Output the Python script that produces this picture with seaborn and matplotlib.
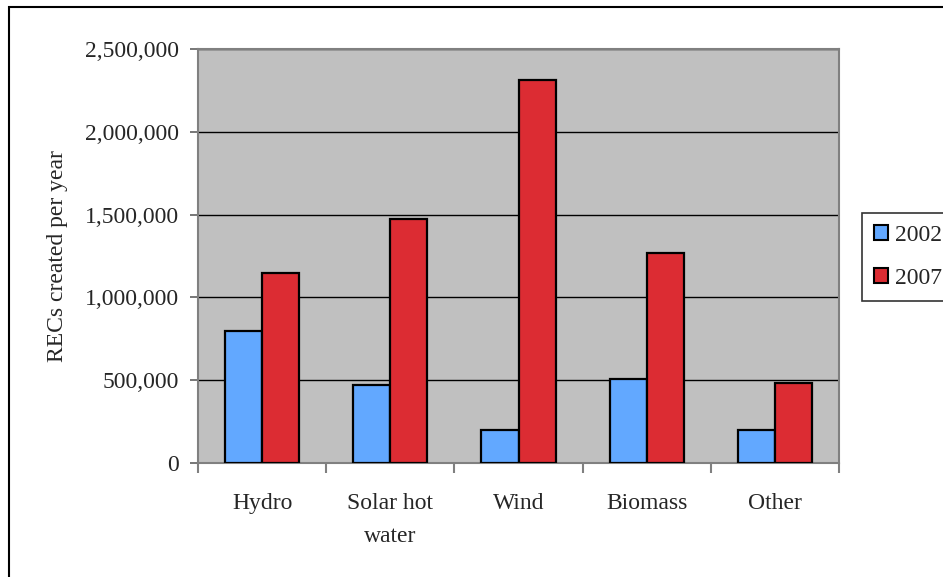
import matplotlib
matplotlib.use("Agg")
import matplotlib.pyplot as plt
from matplotlib.patches import Rectangle
from matplotlib.ticker import FuncFormatter, MultipleLocator
import seaborn as sns
import pandas as pd

categories = ["Hydro", "Solar hot\nwater", "Wind", "Biomass", "Other"]
years = ["2002", "2007"]
recs_2002 = [797000, 471000, 199000, 507000, 199000]
recs_2007 = [1147000, 1473000, 2313000, 1268000, 483000]
colors = ["#62A8FF", "#DC2C33"]

df = pd.DataFrame({
    "category": categories * 2,
    "year": [years[0]] * len(categories) + [years[1]] * len(categories),
    "recs": recs_2002 + recs_2007,
})

sns.set_style("white")
plt.rcParams["font.family"] = ["Liberation Serif", "DejaVu Serif"]

fig = plt.figure(figsize=(9.43, 5.77), dpi=100)
ax = fig.add_axes([198 / 943, 1 - 463 / 577, 641 / 943, 414 / 577])
ax.set_facecolor("#C0C0C0")

sns.barplot(data=df, x="category", y="recs", hue="year", palette=colors,
            order=categories, hue_order=years, width=0.58, gap=0,
            saturation=1, edgecolor="black", linewidth=1.6, errorbar=None,
            ax=ax, legend=False, zorder=3)

ax.set_ylim(0, 2500000)
ax.set_xlim(-0.5, len(categories) - 0.5)
ax.yaxis.set_major_locator(MultipleLocator(500000))
ax.yaxis.set_major_formatter(FuncFormatter(lambda v, p: f"{int(v):,}"))
ax.grid(axis="y", color="black", linewidth=1.0, zorder=1)
ax.set_axisbelow(True)

for s in ax.spines.values():
    s.set_color("#808080")
    s.set_linewidth(1.5)
    s.set_visible(True)

ax.tick_params(axis="y", which="major", left=True, length=6, width=1.2,
               color="#606060", labelsize=17, pad=8)
ax.set_xticks(range(len(categories)))
ax.set_xticklabels(categories, fontsize=17, linespacing=1.75)
ax.tick_params(axis="x", which="major", bottom=False, labelsize=17, pad=18)
ax.set_xticks([i - 0.5 for i in range(len(categories) + 1)], minor=True)
ax.tick_params(axis="x", which="minor", bottom=True, length=7, width=1.5,
               color="#808080")
for lbl in ax.get_xticklabels():
    lbl.set_verticalalignment("top")

ax.set_xlabel("")
ax.set_ylabel("RECs created per year", fontsize=17, labelpad=12)

handles = [Rectangle((0, 0), 1, 1, facecolor=c, edgecolor="black", linewidth=1.5)
           for c in colors]
leg = fig.legend(handles, years, loc="upper left",
                 bbox_to_anchor=(862 / 943, 1 - 213 / 577),
                 frameon=True, fancybox=False, fontsize=17,
                 handlelength=0.6, handleheight=0.6, handletextpad=0.3,
                 labelspacing=0.95, borderpad=0.5, borderaxespad=0)
leg.get_frame().set_edgecolor("black")
leg.get_frame().set_linewidth(1.2)

fig.patches.append(Rectangle((9 / 943, -0.1), 1.2, 1 - 7 / 577 + 0.1,
                             transform=fig.transFigure, fill=False,
                             edgecolor="black", linewidth=1.5, zorder=0))

fig.savefig("out.png", dpi=100)
